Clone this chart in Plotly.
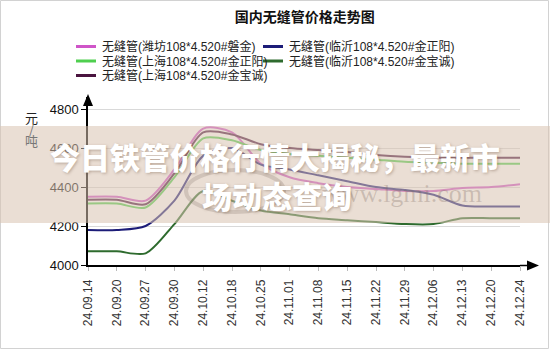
import plotly.graph_objects as go

# 日期（横轴类目）
dates = ['24.09.14', '24.09.20', '24.09.27', '24.09.30', '24.10.12', '24.10.18',
         '24.10.25', '24.11.01', '24.11.08', '24.11.15', '24.11.22', '24.11.29',
         '24.12.06', '24.12.13', '24.12.20', '24.12.24']

# 各产地/钢厂价格（元/吨）
weifang_panjin        = [4350, 4350, 4330, 4490, 4700, 4680, 4520, 4450, 4420, 4400, 4390, 4380, 4380, 4395, 4400, 4415]
linyi_jinzhengyang    = [4180, 4180, 4200, 4330, 4560, 4600, 4515, 4490, 4460, 4430, 4400, 4385, 4360, 4305, 4300, 4300]
shanghai_jinzhengyang = [4315, 4315, 4295, 4450, 4650, 4640, 4590, 4570, 4560, 4550, 4540, 4530, 4525, 4520, 4520, 4520]
linyi_jinbaocheng     = [4070, 4070, 4060, 4210, 4380, 4330, 4280, 4260, 4240, 4230, 4220, 4210, 4210, 4240, 4240, 4240]
shanghai_jinbaocheng  = [4335, 4335, 4312, 4470, 4680, 4670, 4620, 4600, 4590, 4580, 4565, 4555, 4550, 4550, 4550, 4550]

names = ['无缝管(潍坊108*4.520#磐金)', '无缝管(临沂108*4.520#金正阳)',
         '无缝管(上海108*4.520#金正阳)', '无缝管(临沂108*4.520#金宝诚)',
         '无缝管(上海108*4.520#金宝诚)']
series = [weifang_panjin, linyi_jinzhengyang, shanghai_jinzhengyang,
          linyi_jinbaocheng, shanghai_jinbaocheng]
colors = ['#cf55c8', '#1c1c78', '#4fcf4f', '#2e6b2e', '#4a143f']

y_ticks = [4000, 4200, 4400, 4600, 4800]

W, H = 550, 350
L, R, T, B = 88, 30, 97, 85
PW = W - L - R
PH = H - T - B


def px(xp):
    return (xp - L) / PW


def py(yp):
    return (H - B - yp) / PH


CJK = 'Noto Sans CJK SC'
LAT = 'Liberation Sans, Arial, Noto Sans CJK SC'

fig = go.Figure()
draw_order = [0, 2, 4, 1, 3]
for i in draw_order:
    fig.add_trace(go.Scatter(
        x=dates, y=series[i], name=names[i], mode='lines',
        line=dict(color=colors[i], width=2, shape='spline', smoothing=0.8),
        showlegend=False, hoverinfo='skip'))

shapes = []
annotations = []

# 图例（两列）
legend_pos = [(76, 46.5), (263, 46.5), (76, 61), (263, 61), (76, 75.5)]
for (lx, ly), name, col in zip(legend_pos, names, colors):
    shapes.append(dict(type='line', xref='paper', yref='paper',
                       x0=px(lx), x1=px(lx + 20), y0=py(ly), y1=py(ly),
                       line=dict(color=col, width=3)))
    annotations.append(dict(xref='paper', yref='paper', x=px(lx + 24), y=py(ly),
                            text=name, showarrow=False, xanchor='left', yanchor='middle',
                            font=dict(family=LAT, size=12, color='#222')))

# 纵轴单位
for ch, yy, colr in [('元', 117, '#222'), ('/', 128, '#777'), ('吨', 140, '#777')]:
    annotations.append(dict(xref='paper', yref='paper', x=px(31), y=py(yy), text=ch,
                            showarrow=False, xanchor='center', yanchor='middle',
                            font=dict(family=CJK, size=13, color=colr)))

# 坐标轴箭头
shapes.append(dict(type='path', xref='paper', yref='paper',
                   path=f'M {px(88)} {py(94)} L {px(83)} {py(106)} L {px(93)} {py(106)} Z',
                   fillcolor='black', line=dict(width=0)))
shapes.append(dict(type='line', xref='paper', yref='paper',
                   x0=1, x1=px(529), y0=py(265.5), y1=py(265.5),
                   line=dict(color='black', width=1.5)))
shapes.append(dict(type='path', xref='paper', yref='paper',
                   path=f'M {px(539)} {py(265.5)} L {px(527)} {py(260.5)} L {px(527)} {py(270.5)} Z',
                   fillcolor='black', line=dict(width=0)))

# 外框
shapes.append(dict(type='rect', xref='paper', yref='paper',
                   x0=px(0.5), x1=px(548.5), y0=py(348.5), y1=py(0.5),
                   line=dict(color='#d2d2d2', width=1), layer='below'))

# 半透明横幅
shapes.append(dict(type='rect', xref='paper', yref='paper',
                   x0=px(0), x1=px(550), y0=py(223), y1=py(126),
                   fillcolor='rgba(217,195,177,0.55)', line=dict(width=0), layer='above'))
shapes.append(dict(type='circle', xref='paper', yref='paper',
                   x0=px(186), x1=px(284), y0=py(212), y1=py(170),
                   line=dict(color='rgba(120,100,90,0.22)', width=4), layer='above'))

annotations.append(dict(xref='paper', yref='paper', x=px(402), y=py(193),
                        text='www.lgmi.com', showarrow=False,
                        xanchor='center', yanchor='middle',
                        font=dict(family='Liberation Serif, Times New Roman, serif',
                                  size=26, color='rgba(120,100,90,0.28)')))

banner_font = dict(family=CJK, size=30, color='white', weight=900,
                   shadow='1px 1px 3px rgba(90,60,40,0.35)')
annotations.append(dict(xref='paper', yref='paper', x=px(275), y=py(156),
                        text='今日铁管价格行情大揭秘，最新市', showarrow=False,
                        xanchor='center', yanchor='middle', font=banner_font))
annotations.append(dict(xref='paper', yref='paper', x=px(277), y=py(195),
                        text='场动态查询', showarrow=False,
                        xanchor='center', yanchor='middle', font=banner_font))

fig.update_layout(
    width=W, height=H,
    margin=dict(l=L, r=R, t=T, b=B),
    paper_bgcolor='white', plot_bgcolor='white',
    title=dict(text='<b>国内无缝管价格走势图</b>', x=0.502, xref='paper',
               y=1 - 17 / H, yref='container', xanchor='center', yanchor='middle',
               font=dict(family=CJK, size=14, color='#111')),
    shapes=shapes, annotations=annotations,
    xaxis=dict(type='category', categoryorder='array', categoryarray=dates,
               range=[0, len(dates) - 1], autorange=False,
               showgrid=False, zeroline=False,
               showline=True, linecolor='black', linewidth=1.5,
               ticks='outside', ticklen=4, tickcolor='#bbbbbb',
               tickangle=-90, ticklabelstandoff=4,
               tickfont=dict(family=LAT, size=12, color='#333')),
    yaxis=dict(range=[4000, 4862], autorange=False,
               tickvals=y_ticks, ticktext=[str(v) for v in y_ticks],
               showgrid=True, gridcolor='#d9d9d9', gridwidth=1, zeroline=False,
               showline=True, linecolor='black', linewidth=1.5,
               ticks='outside', ticklen=5, tickcolor='black',
               tickfont=dict(family=LAT, size=13, color='#111')),
)

fig.write_html('out.html')
